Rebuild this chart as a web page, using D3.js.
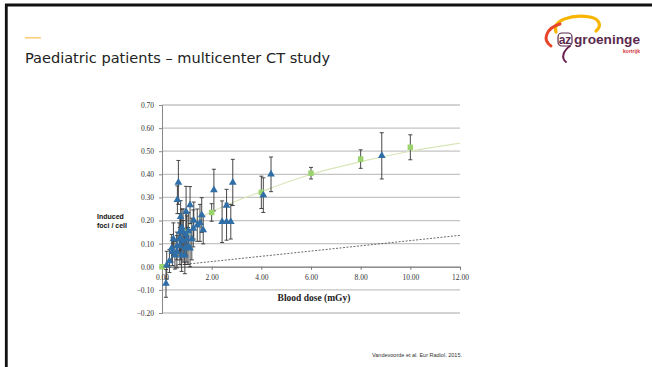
<!DOCTYPE html>
<html>
<head>
<meta charset="utf-8">
<script src="https://cdn.jsdelivr.net/npm/d3@7"></script>
<style>
  html, body { margin: 0; padding: 0; background: #fff; }
  svg { display: block; }
</style>
</head>
<body>
<script>
// blue triangles: individual patients (dose, foci, error)
var blueX   = [0.16, 0.19, 0.30, 0.39, 0.42, 0.46, 0.52, 0.60, 0.60, 0.62, 0.66, 0.69, 0.72, 0.72, 0.75, 0.75, 0.79, 0.80, 0.85, 0.85,
               0.92, 0.92, 0.97, 0.97, 1.00, 1.05, 1.06, 1.13, 1.13, 1.20, 1.26, 1.28, 1.42, 1.53, 1.60, 1.66,
               2.09, 2.42, 2.60, 2.60, 2.77, 2.85, 4.08, 4.39, 8.85];
var blueY   = [-0.072, 0.007, 0.025, 0.080, 0.065, 0.120, 0.050, 0.090, 0.065, 0.290, 0.365, 0.120, 0.150, 0.090, 0.216, 0.120, 0.050, 0.170, 0.110, 0.150,
               0.080, 0.050, 0.238, 0.140, 0.120, 0.090, 0.155, 0.267, 0.080, 0.120, 0.166, 0.200, 0.180, 0.190, 0.224, 0.159,
               0.332, 0.195, 0.265, 0.195, 0.195, 0.365, 0.310, 0.400, 0.480];
var blueErr = [0.060, 0.060, 0.050, 0.060, 0.060, 0.070, 0.060, 0.060, 0.070, 0.060, 0.095, 0.070, 0.080, 0.080, 0.070, 0.090, 0.070, 0.080, 0.090, 0.100,
               0.070, 0.080, 0.110, 0.090, 0.100, 0.080, 0.080, 0.080, 0.080, 0.090, 0.080, 0.080, 0.070, 0.080, 0.075, 0.060,
               0.090, 0.090, 0.070, 0.080, 0.075, 0.100, 0.075, 0.075, 0.100];

// green squares: in vitro calibration points
var greenX   = [0, 1, 2, 4, 6, 8, 10];
var greenY   = [0, 0.150, 0.235, 0.322, 0.405, 0.466, 0.517];
var greenErr = [0, 0, 0.038, 0.070, 0.025, 0.040, 0.054];

// fitted curve through calibration points
var fitX = [0.9, 1.5, 2, 3, 4, 6, 8, 10, 12];
var fitY = [0.165, 0.210, 0.238, 0.285, 0.325, 0.400, 0.455, 0.500, 0.535];

// dotted reference line
var refX = [0, 12];
var refY = [0, 0.136];

var xTicks = [0, 2, 4, 6, 8, 10, 12];
var yTicks = [-0.2, -0.1, 0, 0.1, 0.2, 0.3, 0.4, 0.5, 0.6, 0.7];

var W = 652, H = 367;
var svg = d3.select('body').append('svg').attr('width', W).attr('height', H);

// slide frame
svg.append('rect').attr('x', 0).attr('y', 0).attr('width', W).attr('height', H).attr('fill', '#fff');
svg.append('line').attr('x1', 5).attr('x2', W).attr('y1', 5).attr('y2', 5)
	.attr('stroke', '#111').attr('stroke-width', 2.8);
svg.append('line').attr('x1', 6.3).attr('x2', 6.3).attr('y1', 4).attr('y2', H)
	.attr('stroke', '#111').attr('stroke-width', 2.8);

// title
svg.append('rect').attr('x', 25).attr('y', 37).attr('width', 16).attr('height', 1.6).attr('fill', '#fbcf7c');
svg.append('text').attr('x', 25).attr('y', 63)
	.attr('font-family', 'DejaVu Sans Condensed, DejaVu Sans, sans-serif').attr('font-size', 14)
	.attr('fill', '#222').attr('textLength', 305).attr('lengthAdjust', 'spacingAndGlyphs')
	.text('Paediatric patients \u2013 multicenter CT study');

// logo
var logo = svg.append('g').attr('fill', 'none');
logo.append('path').attr('d', 'M556,32 C552,20 572,14 590,17 C600,19 602,26 596,31')
	.attr('stroke', '#f7b500').attr('stroke-width', 3.2).attr('stroke-linecap', 'round');
logo.append('path').attr('d', 'M560,24 C546,28 542,40 551,46')
	.attr('stroke', '#e8452a').attr('stroke-width', 3).attr('stroke-linecap', 'round');
logo.append('path').attr('d', 'M570,46 C563,51 561,58 566,62')
	.attr('stroke', '#6b2150').attr('stroke-width', 2).attr('stroke-linecap', 'round');
logo.append('rect').attr('x', 558).attr('y', 33).attr('width', 14).attr('height', 13).attr('rx', 4)
	.attr('fill', '#fff').attr('stroke', '#5b2a4e').attr('stroke-width', 1.2);
logo.append('text').attr('x', 565).attr('y', 44).attr('text-anchor', 'middle')
	.attr('font-family', 'Liberation Sans, Arial, sans-serif').attr('font-weight', 'bold').attr('font-size', 12)
	.attr('fill', '#5b2a4e').text('az');
logo.append('text').attr('x', 574).attr('y', 44)
	.attr('font-family', 'Liberation Sans, Arial, sans-serif').attr('font-weight', 'bold').attr('font-size', 12)
	.attr('fill', '#5b2a4e').attr('textLength', 66).attr('lengthAdjust', 'spacingAndGlyphs').text('groeninge');
logo.append('text').attr('x', 640).attr('y', 53).attr('text-anchor', 'end')
	.attr('font-family', 'Liberation Sans, Arial, sans-serif').attr('font-weight', 'bold').attr('font-size', 5)
	.attr('fill', '#d0313a').text('kortrijk');

// chart
var x = d3.scaleLinear().domain([0, 12]).range([162, 460]);
var y = d3.scaleLinear().domain([-0.2, 0.7]).range([313, 105]);

var serif = 'Liberation Serif, Times New Roman, serif';

// gridlines
svg.append('g').selectAll('line').data(yTicks).enter().append('line')
	.attr('x1', x(0)).attr('x2', x(12))
	.attr('y1', function(d) { return y(d); }).attr('y2', function(d) { return y(d); })
	.attr('stroke', '#c4c4c4').attr('stroke-width', 1.3);

// y axis
var yAxis = svg.append('g').attr('transform', 'translate(' + x(0) + ',0)')
	.call(d3.axisLeft(y).tickValues(yTicks).tickSize(3).tickFormat(d3.format('.2f')));
yAxis.select('.domain').attr('stroke', '#888');
yAxis.selectAll('.tick line').attr('stroke', '#888');
yAxis.selectAll('text').attr('font-family', serif).attr('font-size', 7.5).attr('fill', '#333').attr('x', -8);

// x axis on the zero line
var xAxis = svg.append('g').attr('transform', 'translate(0,' + y(0) + ')')
	.call(d3.axisBottom(x).tickValues(xTicks).tickSize(3).tickFormat(d3.format('.2f')));
xAxis.select('.domain').attr('stroke', '#777');
xAxis.selectAll('.tick line').attr('stroke', '#777');
xAxis.selectAll('text').attr('font-family', serif).attr('font-size', 7.5).attr('fill', '#333').attr('dy', '0.95em');

svg.append('text').attr('x', 314).attr('y', 301).attr('text-anchor', 'middle')
	.attr('font-family', serif).attr('font-weight', 'bold').attr('font-size', 9.5).attr('fill', '#222')
	.text('Blood dose (mGy)');

var yLab = svg.append('text').attr('font-family', 'Liberation Sans, Arial, sans-serif')
	.attr('font-weight', 'bold').attr('font-size', 7).attr('fill', '#111');
yLab.append('tspan').attr('x', 97).attr('y', 219).text('Induced');
yLab.append('tspan').attr('x', 97).attr('y', 228).text('foci / cell');

// fit curve and reference line
svg.append('path').datum(d3.zip(fitX, fitY))
	.attr('d', d3.line().x(function(d) { return x(d[0]); }).y(function(d) { return y(d[1]); }).curve(d3.curveMonotoneX))
	.attr('fill', 'none').attr('stroke', '#d8e6b8').attr('stroke-width', 1.1);
svg.append('path').datum(d3.zip(refX, refY))
	.attr('d', d3.line().x(function(d) { return x(d[0]); }).y(function(d) { return y(d[1]); }))
	.attr('fill', 'none').attr('stroke', '#444').attr('stroke-width', 0.8).attr('stroke-dasharray', '2,1.5');

// error bars
function errorBars(xs, ys, es) {
	var pts = d3.zip(xs, ys, es).filter(function(d) { return d[2] > 0; });
	var g = svg.append('g').attr('stroke', '#333').attr('stroke-width', 0.9);
	var sel = g.selectAll('g').data(pts).enter().append('g');
	sel.append('line')
		.attr('x1', function(d) { return x(d[0]); }).attr('x2', function(d) { return x(d[0]); })
		.attr('y1', function(d) { return y(d[1] + d[2]); }).attr('y2', function(d) { return y(d[1] - d[2]); });
	[1, -1].forEach(function(s) {
		sel.append('line')
			.attr('x1', function(d) { return x(d[0]) - 2; }).attr('x2', function(d) { return x(d[0]) + 2; })
			.attr('y1', function(d) { return y(d[1] + s * d[2]); }).attr('y2', function(d) { return y(d[1] + s * d[2]); });
	});
}
errorBars(blueX, blueY, blueErr);
errorBars(greenX, greenY, greenErr);

// markers
svg.append('g').selectAll('path').data(d3.zip(greenX, greenY)).enter().append('path')
	.attr('d', d3.symbol().type(d3.symbolSquare).size(30))
	.attr('transform', function(d) { return 'translate(' + x(d[0]) + ',' + y(d[1]) + ')'; })
	.attr('fill', '#9bd36c');
svg.append('g').selectAll('path').data(d3.zip(blueX, blueY)).enter().append('path')
	.attr('d', d3.symbol().type(d3.symbolTriangle).size(26))
	.attr('transform', function(d) { return 'translate(' + x(d[0]) + ',' + y(d[1]) + ')'; })
	.attr('fill', '#2f6ea6');

// citation
svg.append('text').attr('x', 372).attr('y', 357)
	.attr('font-family', 'Liberation Sans, Arial, sans-serif').attr('font-size', 5).attr('fill', '#333')
	.attr('textLength', 90).attr('lengthAdjust', 'spacingAndGlyphs')
	.text('Vandevoorde  et al. Eur Radiol.  2015.');
</script>
</body>
</html>
